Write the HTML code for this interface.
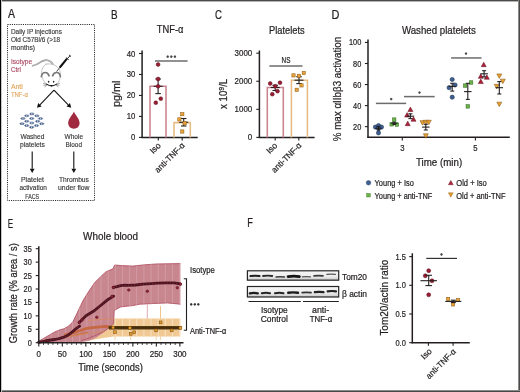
<!DOCTYPE html>
<html><head><meta charset="utf-8"><style>
html,body{margin:0;padding:0;background:#fff;}
svg{display:block;will-change:transform;}
text{font-family:"Liberation Sans", sans-serif;stroke-width:0.22px;paint-order:stroke;}
</style></head><body>
<svg width="520" height="392" viewBox="0 0 520 392">
<rect x="0" y="0" width="520" height="392" fill="#ffffff"/>
<text x="8.0" y="18.3" font-size="12" fill="#231f20" stroke="#231f20" textLength="7.0" lengthAdjust="spacingAndGlyphs" >A</text>
<rect x="7.5" y="24.5" width="87" height="176" fill="none" stroke="#2a2a2a" stroke-width="1" stroke-dasharray="1.1 1.1"/>
<text x="10.9" y="33.8" font-size="6.6" fill="#333" stroke="#333" textLength="51" lengthAdjust="spacingAndGlyphs" style="stroke-width:0.12px" >Daily IP injections</text>
<text x="10.9" y="42.1" font-size="6.6" fill="#333" stroke="#333" textLength="49.2" lengthAdjust="spacingAndGlyphs" style="stroke-width:0.12px" >Old C57Bl/6 (&gt;18</text>
<text x="10.9" y="50.3" font-size="6.6" fill="#333" stroke="#333" textLength="24.2" lengthAdjust="spacingAndGlyphs" style="stroke-width:0.12px" >months)</text>
<text x="10.9" y="64.0" font-size="6.6" fill="#a8435e" stroke="#a8435e" textLength="21.2" lengthAdjust="spacingAndGlyphs" style="stroke-width:0.12px" >Isotype</text>
<text x="10.9" y="72.2" font-size="6.6" fill="#a8435e" stroke="#a8435e" textLength="10" lengthAdjust="spacingAndGlyphs" style="stroke-width:0.12px" >Ctrl</text>
<text x="10.9" y="89.0" font-size="6.6" fill="#e0a45a" stroke="#e0a45a" textLength="11.8" lengthAdjust="spacingAndGlyphs" style="stroke-width:0.12px" >Anti</text>
<text x="10.9" y="96.5" font-size="6.6" fill="#e0a45a" stroke="#e0a45a" textLength="17.1" lengthAdjust="spacingAndGlyphs" style="stroke-width:0.12px" >TNF-α</text>
<g fill="none" stroke-linecap="round" stroke-linejoin="round">
<path d="M32.6,65.8 C35.5,65.2 38.5,63.5 41,61.8 C44,60 48,59.8 50.5,61.6 C51.6,62.4 52.4,63.4 52.9,64.3" stroke="#8a8a8a" stroke-width="1.6"/>
<path d="M32.6,65.8 C35.5,65.2 38.5,63.5 41,61.8 C44,60 48,59.8 50.5,61.6 C51.6,62.4 52.4,63.4 52.9,64.3" stroke="#e8e8e8" stroke-width="0.5"/>
<path d="M46.2,64.1 C49,63.6 53,63.8 56.5,66.2 C59.5,68.5 60.8,72 60.4,75.6 C60.2,78 59.6,80 58.4,82.2 C57.4,84 55,85.6 51.5,86.2 C48,85.6 45.6,84 44.6,82.2 C43.2,80 42.2,78 41.6,76 C40.8,72 42.2,66.2 46.2,64.1 Z" fill="#fff" stroke="#b0b0b0" stroke-width="0.7"/>
<path d="M41.4,76.6 C41.8,73.8 43.4,72.5 45.2,72.5 C47,72.5 48.4,73.6 49.0,75.8" stroke="#777" stroke-width="1.7"/>
<path d="M52.7,75.8 C53.3,73.6 54.8,72.5 56.6,72.5 C58.4,72.5 60.0,73.8 60.4,76.6" stroke="#777" stroke-width="1.7"/>
</g>
<ellipse cx="48.6" cy="81.8" rx="0.75" ry="1.0" fill="#222"/>
<ellipse cx="53.6" cy="81.8" rx="0.75" ry="1.0" fill="#222"/>
<path d="M46.4,84.0 Q51.5,87.6 56.8,84.0" fill="none" stroke="#111" stroke-width="0.9"/>
<ellipse cx="51.5" cy="85.7" rx="1.1" ry="0.8" fill="#111"/>
<line x1="47.2" y1="84.6" x2="43.0" y2="83.2" stroke="#333" stroke-width="0.45" />
<line x1="47.2" y1="84.6" x2="43.4" y2="85.4" stroke="#333" stroke-width="0.45" />
<line x1="47.2" y1="84.6" x2="44.6" y2="87.3" stroke="#333" stroke-width="0.45" />
<line x1="55.8" y1="84.6" x2="60.0" y2="83.2" stroke="#333" stroke-width="0.45" />
<line x1="55.8" y1="84.6" x2="59.6" y2="85.4" stroke="#333" stroke-width="0.45" />
<line x1="55.8" y1="84.6" x2="58.4" y2="87.3" stroke="#333" stroke-width="0.45" />
<line x1="56.6" y1="71.5" x2="60.2" y2="67.0" stroke="#222" stroke-width="0.8" />
<line x1="59.8" y1="67.5" x2="67.0" y2="58.6" stroke="#111" stroke-width="2.0" />
<line x1="66.2" y1="57.6" x2="68.6" y2="59.6" stroke="#111" stroke-width="0.9" />
<line x1="67.6" y1="58.4" x2="70.0" y2="55.8" stroke="#111" stroke-width="0.9" />
<line x1="69.0" y1="54.9" x2="71.0" y2="56.6" stroke="#111" stroke-width="0.9" />
<line x1="54" y1="90.2" x2="39.91790952654073" y2="104.77910543134607" stroke="#111" stroke-width="1.1" />
<polygon points="37.00,107.80 38.19,103.11 41.64,106.45" fill="#111"/>
<line x1="54" y1="90.2" x2="68.2644816192358" y2="104.7962137499157" stroke="#111" stroke-width="1.1" />
<polygon points="71.20,107.80 66.55,106.47 69.98,103.12" fill="#111"/>
<ellipse cx="31.8" cy="113.9" rx="2.2" ry="1.0" fill="#c4cede" stroke="#34507e" stroke-width="0.5"/>
<circle cx="30.650000000000002" cy="113.9" r="0.6" fill="#2a4676" stroke="none" stroke-width="0.5"/>
<circle cx="32.95" cy="113.9" r="0.6" fill="#2a4676" stroke="none" stroke-width="0.5"/>
<ellipse cx="26.7" cy="115.8" rx="2.2" ry="1.0" fill="#c4cede" stroke="#34507e" stroke-width="0.5"/>
<circle cx="25.55" cy="115.8" r="0.6" fill="#2a4676" stroke="none" stroke-width="0.5"/>
<circle cx="27.849999999999998" cy="115.8" r="0.6" fill="#2a4676" stroke="none" stroke-width="0.5"/>
<ellipse cx="36.8" cy="115.8" rx="2.2" ry="1.0" fill="#c4cede" stroke="#34507e" stroke-width="0.5"/>
<circle cx="35.65" cy="115.8" r="0.6" fill="#2a4676" stroke="none" stroke-width="0.5"/>
<circle cx="37.949999999999996" cy="115.8" r="0.6" fill="#2a4676" stroke="none" stroke-width="0.5"/>
<ellipse cx="22.9" cy="118.5" rx="2.2" ry="1.0" fill="#c4cede" stroke="#34507e" stroke-width="0.5"/>
<circle cx="21.75" cy="118.5" r="0.6" fill="#2a4676" stroke="none" stroke-width="0.5"/>
<circle cx="24.049999999999997" cy="118.5" r="0.6" fill="#2a4676" stroke="none" stroke-width="0.5"/>
<ellipse cx="31.7" cy="118.5" rx="2.2" ry="1.0" fill="#c4cede" stroke="#34507e" stroke-width="0.5"/>
<circle cx="30.55" cy="118.5" r="0.6" fill="#2a4676" stroke="none" stroke-width="0.5"/>
<circle cx="32.85" cy="118.5" r="0.6" fill="#2a4676" stroke="none" stroke-width="0.5"/>
<ellipse cx="40.5" cy="118.5" rx="2.2" ry="1.0" fill="#c4cede" stroke="#34507e" stroke-width="0.5"/>
<circle cx="39.35" cy="118.5" r="0.6" fill="#2a4676" stroke="none" stroke-width="0.5"/>
<circle cx="41.65" cy="118.5" r="0.6" fill="#2a4676" stroke="none" stroke-width="0.5"/>
<ellipse cx="26.7" cy="121.3" rx="2.2" ry="1.0" fill="#c4cede" stroke="#34507e" stroke-width="0.5"/>
<circle cx="25.55" cy="121.3" r="0.6" fill="#2a4676" stroke="none" stroke-width="0.5"/>
<circle cx="27.849999999999998" cy="121.3" r="0.6" fill="#2a4676" stroke="none" stroke-width="0.5"/>
<ellipse cx="37.6" cy="121.3" rx="2.2" ry="1.0" fill="#c4cede" stroke="#34507e" stroke-width="0.5"/>
<circle cx="36.45" cy="121.3" r="0.6" fill="#2a4676" stroke="none" stroke-width="0.5"/>
<circle cx="38.75" cy="121.3" r="0.6" fill="#2a4676" stroke="none" stroke-width="0.5"/>
<ellipse cx="31.8" cy="123.0" rx="2.2" ry="1.0" fill="#c4cede" stroke="#34507e" stroke-width="0.5"/>
<circle cx="30.650000000000002" cy="123.0" r="0.6" fill="#2a4676" stroke="none" stroke-width="0.5"/>
<circle cx="32.95" cy="123.0" r="0.6" fill="#2a4676" stroke="none" stroke-width="0.5"/>
<ellipse cx="22.0" cy="123.7" rx="2.2" ry="1.0" fill="#c4cede" stroke="#34507e" stroke-width="0.5"/>
<circle cx="20.85" cy="123.7" r="0.6" fill="#2a4676" stroke="none" stroke-width="0.5"/>
<circle cx="23.15" cy="123.7" r="0.6" fill="#2a4676" stroke="none" stroke-width="0.5"/>
<ellipse cx="41.7" cy="123.7" rx="2.2" ry="1.0" fill="#c4cede" stroke="#34507e" stroke-width="0.5"/>
<circle cx="40.550000000000004" cy="123.7" r="0.6" fill="#2a4676" stroke="none" stroke-width="0.5"/>
<circle cx="42.85" cy="123.7" r="0.6" fill="#2a4676" stroke="none" stroke-width="0.5"/>
<ellipse cx="26.7" cy="125.6" rx="2.2" ry="1.0" fill="#c4cede" stroke="#34507e" stroke-width="0.5"/>
<circle cx="25.55" cy="125.6" r="0.6" fill="#2a4676" stroke="none" stroke-width="0.5"/>
<circle cx="27.849999999999998" cy="125.6" r="0.6" fill="#2a4676" stroke="none" stroke-width="0.5"/>
<ellipse cx="36.5" cy="125.6" rx="2.2" ry="1.0" fill="#c4cede" stroke="#34507e" stroke-width="0.5"/>
<circle cx="35.35" cy="125.6" r="0.6" fill="#2a4676" stroke="none" stroke-width="0.5"/>
<circle cx="37.65" cy="125.6" r="0.6" fill="#2a4676" stroke="none" stroke-width="0.5"/>
<ellipse cx="31.6" cy="127.3" rx="2.2" ry="1.0" fill="#c4cede" stroke="#34507e" stroke-width="0.5"/>
<circle cx="30.450000000000003" cy="127.3" r="0.6" fill="#2a4676" stroke="none" stroke-width="0.5"/>
<circle cx="32.75" cy="127.3" r="0.6" fill="#2a4676" stroke="none" stroke-width="0.5"/>
<path d="M73.9,111.6 C74.8,114.5 79.6,118.8 79.6,123.1 C79.6,126.6 77.1,128.8 73.9,128.8 C70.7,128.8 68.2,126.6 68.2,123.1 C68.2,118.8 73,114.5 73.9,111.6 Z" fill="#a0283f"/>
<text x="32.4" y="139.2" font-size="6.6" fill="#333" stroke="#333" text-anchor="middle" textLength="24" lengthAdjust="spacingAndGlyphs" style="stroke-width:0.12px" >Washed</text>
<text x="32.4" y="147.3" font-size="6.6" fill="#333" stroke="#333" text-anchor="middle" textLength="24.8" lengthAdjust="spacingAndGlyphs" style="stroke-width:0.12px" >platelets</text>
<text x="73.8" y="139.2" font-size="6.6" fill="#333" stroke="#333" text-anchor="middle" textLength="18.5" lengthAdjust="spacingAndGlyphs" style="stroke-width:0.12px" >Whole</text>
<text x="73.8" y="147.3" font-size="6.6" fill="#333" stroke="#333" text-anchor="middle" textLength="16.5" lengthAdjust="spacingAndGlyphs" style="stroke-width:0.12px" >Blood</text>
<line x1="32.2" y1="151.5" x2="32.2" y2="168.8" stroke="#111" stroke-width="1.1" />
<polygon points="32.20,173.00 29.80,168.80 34.60,168.80" fill="#111"/>
<line x1="73.8" y1="151.5" x2="73.8" y2="168.8" stroke="#111" stroke-width="1.1" />
<polygon points="73.80,173.00 71.40,168.80 76.20,168.80" fill="#111"/>
<text x="32.5" y="182.3" font-size="6.6" fill="#333" stroke="#333" text-anchor="middle" textLength="23" lengthAdjust="spacingAndGlyphs" style="stroke-width:0.12px" >Platelet</text>
<text x="33.2" y="190.4" font-size="6.6" fill="#333" stroke="#333" text-anchor="middle" textLength="27.5" lengthAdjust="spacingAndGlyphs" style="stroke-width:0.12px" >activation</text>
<text x="32.2" y="198.5" font-size="6.6" fill="#333" stroke="#333" text-anchor="middle" textLength="14" lengthAdjust="spacingAndGlyphs" style="stroke-width:0.12px" >FACS</text>
<text x="73.9" y="182.3" font-size="6.6" fill="#333" stroke="#333" text-anchor="middle" textLength="30" lengthAdjust="spacingAndGlyphs" style="stroke-width:0.12px" >Thrombus</text>
<text x="73.8" y="190.4" font-size="6.6" fill="#333" stroke="#333" text-anchor="middle" textLength="31.5" lengthAdjust="spacingAndGlyphs" style="stroke-width:0.12px" >under flow</text>
<text x="111.0" y="18.5" font-size="12" fill="#231f20" stroke="#231f20" textLength="6.6" lengthAdjust="spacingAndGlyphs" >B</text>
<text x="156.8" y="32.7" font-size="10.5" fill="#231f20" stroke="#231f20" textLength="26.7" lengthAdjust="spacingAndGlyphs" >TNF-α</text>
<line x1="142.1" y1="50.4" x2="142.1" y2="138.0" stroke="#231f20" stroke-width="1.5" />
<line x1="139.0" y1="137.4" x2="142.1" y2="137.4" stroke="#231f20" stroke-width="1.1" />
<text x="135.4" y="140.4" font-size="8.7" fill="#231f20" stroke="#231f20" text-anchor="end" textLength="4.3" lengthAdjust="spacingAndGlyphs" >0</text>
<line x1="139.0" y1="116.42500000000001" x2="142.1" y2="116.42500000000001" stroke="#231f20" stroke-width="1.1" />
<text x="135.4" y="119.42500000000001" font-size="8.7" fill="#231f20" stroke="#231f20" text-anchor="end" textLength="8.6" lengthAdjust="spacingAndGlyphs" >10</text>
<line x1="139.0" y1="95.45" x2="142.1" y2="95.45" stroke="#231f20" stroke-width="1.1" />
<text x="135.4" y="98.45" font-size="8.7" fill="#231f20" stroke="#231f20" text-anchor="end" textLength="8.6" lengthAdjust="spacingAndGlyphs" >20</text>
<line x1="139.0" y1="74.475" x2="142.1" y2="74.475" stroke="#231f20" stroke-width="1.1" />
<text x="135.4" y="77.475" font-size="8.7" fill="#231f20" stroke="#231f20" text-anchor="end" textLength="8.6" lengthAdjust="spacingAndGlyphs" >30</text>
<line x1="139.0" y1="53.5" x2="142.1" y2="53.5" stroke="#231f20" stroke-width="1.1" />
<text x="135.4" y="56.5" font-size="8.7" fill="#231f20" stroke="#231f20" text-anchor="end" textLength="8.6" lengthAdjust="spacingAndGlyphs" >40</text>
<line x1="141.4" y1="137.4" x2="197.7" y2="137.4" stroke="#231f20" stroke-width="1.5" />
<line x1="158.3" y1="137.4" x2="158.3" y2="140.4" stroke="#231f20" stroke-width="1.1" />
<line x1="182.2" y1="137.4" x2="182.2" y2="140.4" stroke="#231f20" stroke-width="1.1" />
<path d="M150.0,137.4 V86.3 H166.0 V137.4" fill="none" stroke="#c9848f" stroke-width="1.55"/>
<path d="M174.0,137.4 V122.6 H190.3 V137.4" fill="none" stroke="#e8bb82" stroke-width="1.55"/>
<line x1="153.6" y1="86.3" x2="162.6" y2="86.3" stroke="#231f20" stroke-width="1.1" />
<line x1="158.1" y1="79.0" x2="158.1" y2="93.6" stroke="#231f20" stroke-width="1.1" />
<line x1="155.35" y1="79.0" x2="160.85" y2="79.0" stroke="#231f20" stroke-width="1.1" />
<line x1="155.35" y1="93.6" x2="160.85" y2="93.6" stroke="#231f20" stroke-width="1.1" />
<line x1="179.2" y1="122.3" x2="188.2" y2="122.3" stroke="#231f20" stroke-width="1.1" />
<line x1="183.7" y1="118.5" x2="183.7" y2="126.0" stroke="#231f20" stroke-width="1.1" />
<line x1="180.95" y1="118.5" x2="186.45" y2="118.5" stroke="#231f20" stroke-width="1.1" />
<line x1="180.95" y1="126.0" x2="186.45" y2="126.0" stroke="#231f20" stroke-width="1.1" />
<circle cx="158.1" cy="64.5" r="1.9" fill="#9b1d33" stroke="#5a0f1c" stroke-width="0.5"/>
<circle cx="158.1" cy="79.0" r="1.9" fill="#9b1d33" stroke="#5a0f1c" stroke-width="0.5"/>
<circle cx="158.1" cy="86.3" r="1.9" fill="#9b1d33" stroke="#5a0f1c" stroke-width="0.5"/>
<circle cx="160.8" cy="98.7" r="1.9" fill="#9b1d33" stroke="#5a0f1c" stroke-width="0.5"/>
<circle cx="155.8" cy="102.7" r="1.9" fill="#9b1d33" stroke="#5a0f1c" stroke-width="0.5"/>
<rect x="180.65" y="112.55" width="3.3" height="3.3" fill="#e8a03a" stroke="#8a5a10" stroke-width="0.5"/>
<rect x="177.75" y="117.75" width="3.3" height="3.3" fill="#e8a03a" stroke="#8a5a10" stroke-width="0.5"/>
<rect x="182.95" y="121.65" width="3.3" height="3.3" fill="#e8a03a" stroke="#8a5a10" stroke-width="0.5"/>
<rect x="180.65" y="129.85" width="3.3" height="3.3" fill="#e8a03a" stroke="#8a5a10" stroke-width="0.5"/>
<line x1="155.0" y1="61.0" x2="187.6" y2="61.0" stroke="#6c6c6c" stroke-width="1.5" />
<circle cx="167.7" cy="56.7" r="1.15" fill="#474747"/>
<path d="M166.435,56.7 L168.96499999999997,56.7 M167.7,55.435 L167.7,57.965" stroke="#474747" stroke-width="0.5"/>
<circle cx="171.3" cy="56.7" r="1.15" fill="#474747"/>
<path d="M170.03500000000003,56.7 L172.565,56.7 M171.3,55.435 L171.3,57.965" stroke="#474747" stroke-width="0.5"/>
<circle cx="174.9" cy="56.7" r="1.15" fill="#474747"/>
<path d="M173.63500000000002,56.7 L176.165,56.7 M174.9,55.435 L174.9,57.965" stroke="#474747" stroke-width="0.5"/>
<text x="120.4" y="93.9" font-size="10" fill="#231f20" stroke="#231f20" text-anchor="middle" textLength="26.4" lengthAdjust="spacingAndGlyphs" transform="rotate(-90 120.4 93.9)" >pg/ml</text>
<text x="161.3" y="146.0" font-size="8.5" fill="#231f20" stroke="#231f20" text-anchor="end" textLength="11.5" lengthAdjust="spacingAndGlyphs" transform="rotate(-45 161.3 146.0)" >Iso</text>
<text x="185.3" y="146.0" font-size="8.5" fill="#231f20" stroke="#231f20" text-anchor="end" textLength="38.5" lengthAdjust="spacingAndGlyphs" transform="rotate(-45 185.3 146.0)" >anti-TNF-α</text>
<text x="214.9" y="18.5" font-size="12" fill="#231f20" stroke="#231f20" textLength="6.9" lengthAdjust="spacingAndGlyphs" >C</text>
<text x="269" y="33.5" font-size="10.5" fill="#231f20" stroke="#231f20" textLength="35.7" lengthAdjust="spacingAndGlyphs" >Platelets</text>
<line x1="259.4" y1="50.5" x2="259.4" y2="138.0" stroke="#231f20" stroke-width="1.5" />
<line x1="256.3" y1="137.4" x2="259.4" y2="137.4" stroke="#231f20" stroke-width="1.1" />
<text x="252.2" y="140.4" font-size="8.7" fill="#231f20" stroke="#231f20" text-anchor="end" textLength="4.4" lengthAdjust="spacingAndGlyphs" >0</text>
<line x1="256.3" y1="109.33000000000001" x2="259.4" y2="109.33000000000001" stroke="#231f20" stroke-width="1.1" />
<text x="252.2" y="112.33000000000001" font-size="8.7" fill="#231f20" stroke="#231f20" text-anchor="end" textLength="17.6" lengthAdjust="spacingAndGlyphs" >1000</text>
<line x1="256.3" y1="81.26" x2="259.4" y2="81.26" stroke="#231f20" stroke-width="1.1" />
<text x="252.2" y="84.26" font-size="8.7" fill="#231f20" stroke="#231f20" text-anchor="end" textLength="17.6" lengthAdjust="spacingAndGlyphs" >2000</text>
<line x1="256.3" y1="53.19" x2="259.4" y2="53.19" stroke="#231f20" stroke-width="1.1" />
<text x="252.2" y="56.19" font-size="8.7" fill="#231f20" stroke="#231f20" text-anchor="end" textLength="17.6" lengthAdjust="spacingAndGlyphs" >3000</text>
<line x1="258.7" y1="137.4" x2="314.6" y2="137.4" stroke="#231f20" stroke-width="1.5" />
<line x1="275.2" y1="137.4" x2="275.2" y2="140.4" stroke="#231f20" stroke-width="1.1" />
<line x1="298.8" y1="137.4" x2="298.8" y2="140.4" stroke="#231f20" stroke-width="1.1" />
<path d="M267.3,137.4 V87.5 H283.3 V137.4" fill="none" stroke="#c9848f" stroke-width="1.55"/>
<path d="M291.4,137.4 V80.2 H307.4 V137.4" fill="none" stroke="#e8bb82" stroke-width="1.55"/>
<line x1="270.7" y1="87.5" x2="279.7" y2="87.5" stroke="#231f20" stroke-width="1.1" />
<line x1="275.2" y1="85.3" x2="275.2" y2="90.5" stroke="#231f20" stroke-width="1.1" />
<line x1="272.45" y1="85.3" x2="277.95" y2="85.3" stroke="#231f20" stroke-width="1.1" />
<line x1="272.45" y1="90.5" x2="277.95" y2="90.5" stroke="#231f20" stroke-width="1.1" />
<line x1="294.5" y1="80.2" x2="303.5" y2="80.2" stroke="#231f20" stroke-width="1.1" />
<line x1="299.0" y1="76.7" x2="299.0" y2="83.6" stroke="#231f20" stroke-width="1.1" />
<line x1="296.25" y1="76.7" x2="301.75" y2="76.7" stroke="#231f20" stroke-width="1.1" />
<line x1="296.25" y1="83.6" x2="301.75" y2="83.6" stroke="#231f20" stroke-width="1.1" />
<circle cx="270.2" cy="83.5" r="1.9" fill="#9b1d33" stroke="#5a0f1c" stroke-width="0.5"/>
<circle cx="280.0" cy="82.7" r="1.9" fill="#9b1d33" stroke="#5a0f1c" stroke-width="0.5"/>
<circle cx="275.2" cy="86.2" r="1.9" fill="#9b1d33" stroke="#5a0f1c" stroke-width="0.5"/>
<circle cx="272.3" cy="94.2" r="1.9" fill="#9b1d33" stroke="#5a0f1c" stroke-width="0.5"/>
<circle cx="277.5" cy="91.2" r="1.9" fill="#9b1d33" stroke="#5a0f1c" stroke-width="0.5"/>
<rect x="291.85" y="73.75" width="3.3" height="3.3" fill="#e8a03a" stroke="#8a5a10" stroke-width="0.5"/>
<rect x="297.35" y="74.15" width="3.3" height="3.3" fill="#e8a03a" stroke="#8a5a10" stroke-width="0.5"/>
<rect x="302.15" y="71.35" width="3.3" height="3.3" fill="#e8a03a" stroke="#8a5a10" stroke-width="0.5"/>
<rect x="299.85" y="83.75" width="3.3" height="3.3" fill="#e8a03a" stroke="#8a5a10" stroke-width="0.5"/>
<rect x="295.05" y="88.15" width="3.3" height="3.3" fill="#e8a03a" stroke="#8a5a10" stroke-width="0.5"/>
<line x1="269.4" y1="66.0" x2="302.5" y2="66.0" stroke="#6c6c6c" stroke-width="1.5" />
<text x="286.0" y="62.7" font-size="8.6" fill="#231f20" stroke="#231f20" text-anchor="middle" textLength="8.9" lengthAdjust="spacingAndGlyphs" >NS</text>
<text x="227.4" y="109" font-size="10" fill="#231f20" stroke="#231f20" textLength="30.2" lengthAdjust="spacingAndGlyphs" transform="rotate(-90 227.4 109)">x 10<tspan font-size="7.2" dy="-3.8">9</tspan><tspan dy="3.8">/L</tspan></text>
<text x="277.8" y="146.0" font-size="8.5" fill="#231f20" stroke="#231f20" text-anchor="end" textLength="11.5" lengthAdjust="spacingAndGlyphs" transform="rotate(-45 277.8 146.0)" >Iso</text>
<text x="302.1" y="146.0" font-size="8.5" fill="#231f20" stroke="#231f20" text-anchor="end" textLength="38.5" lengthAdjust="spacingAndGlyphs" transform="rotate(-45 302.1 146.0)" >anti-TNF-α</text>
<text x="331.6" y="18.5" font-size="12" fill="#231f20" stroke="#231f20" textLength="7.9" lengthAdjust="spacingAndGlyphs" >D</text>
<text x="401.9" y="33.6" font-size="10.5" fill="#231f20" stroke="#231f20" textLength="74" lengthAdjust="spacingAndGlyphs" >Washed platelets</text>
<line x1="368.0" y1="39.5" x2="368.0" y2="137.9" stroke="#231f20" stroke-width="1.5" />
<line x1="364.9" y1="126.64999999999999" x2="368.0" y2="126.64999999999999" stroke="#231f20" stroke-width="1.1" />
<text x="361.3" y="129.64999999999998" font-size="8.7" fill="#231f20" stroke="#231f20" text-anchor="end" textLength="8.2" lengthAdjust="spacingAndGlyphs" >20</text>
<line x1="364.9" y1="105.6" x2="368.0" y2="105.6" stroke="#231f20" stroke-width="1.1" />
<text x="361.3" y="108.6" font-size="8.7" fill="#231f20" stroke="#231f20" text-anchor="end" textLength="8.2" lengthAdjust="spacingAndGlyphs" >40</text>
<line x1="364.9" y1="84.54999999999998" x2="368.0" y2="84.54999999999998" stroke="#231f20" stroke-width="1.1" />
<text x="361.3" y="87.54999999999998" font-size="8.7" fill="#231f20" stroke="#231f20" text-anchor="end" textLength="8.2" lengthAdjust="spacingAndGlyphs" >60</text>
<line x1="364.9" y1="63.499999999999986" x2="368.0" y2="63.499999999999986" stroke="#231f20" stroke-width="1.1" />
<text x="361.3" y="66.49999999999999" font-size="8.7" fill="#231f20" stroke="#231f20" text-anchor="end" textLength="8.2" lengthAdjust="spacingAndGlyphs" >80</text>
<line x1="364.9" y1="42.44999999999999" x2="368.0" y2="42.44999999999999" stroke="#231f20" stroke-width="1.1" />
<text x="361.3" y="45.44999999999999" font-size="8.7" fill="#231f20" stroke="#231f20" text-anchor="end" textLength="12.3" lengthAdjust="spacingAndGlyphs" >100</text>
<line x1="367.3" y1="137.3" x2="509.8" y2="137.3" stroke="#231f20" stroke-width="1.5" />
<line x1="402.3" y1="137.3" x2="402.3" y2="140.6" stroke="#231f20" stroke-width="1.1" />
<line x1="475.4" y1="137.3" x2="475.4" y2="140.6" stroke="#231f20" stroke-width="1.1" />
<text x="402.3" y="151.4" font-size="8.7" fill="#231f20" stroke="#231f20" text-anchor="middle" textLength="4.3" lengthAdjust="spacingAndGlyphs" >3</text>
<text x="475.4" y="151.4" font-size="8.7" fill="#231f20" stroke="#231f20" text-anchor="middle" textLength="4.3" lengthAdjust="spacingAndGlyphs" >5</text>
<text x="416.0" y="165.5" font-size="10" fill="#231f20" stroke="#231f20" textLength="46.2" lengthAdjust="spacingAndGlyphs" >Time (min)</text>
<text x="340.6" y="89.0" font-size="10" fill="#231f20" stroke="#231f20" text-anchor="middle" textLength="104.5" lengthAdjust="spacingAndGlyphs" transform="rotate(-90 340.6 89.0)" >% max αIIbβ3 activation</text>
<circle cx="375.4" cy="127.1" r="2.1" fill="#3e5f8f" stroke="#1e3458" stroke-width="0.6"/>
<circle cx="378.5" cy="125.6" r="2.1" fill="#3e5f8f" stroke="#1e3458" stroke-width="0.6"/>
<circle cx="381.5" cy="127.1" r="2.1" fill="#3e5f8f" stroke="#1e3458" stroke-width="0.6"/>
<circle cx="378.5" cy="132.9" r="2.1" fill="#3e5f8f" stroke="#1e3458" stroke-width="0.6"/>
<circle cx="378.5" cy="128.5" r="2.1" fill="#3e5f8f" stroke="#1e3458" stroke-width="0.6"/>
<line x1="375.25" y1="128.3" x2="381.75" y2="128.3" stroke="#231f20" stroke-width="1.1" />
<line x1="378.5" y1="126.5" x2="378.5" y2="130.0" stroke="#231f20" stroke-width="1.1" />
<line x1="376.75" y1="126.5" x2="380.25" y2="126.5" stroke="#231f20" stroke-width="1.1" />
<line x1="376.75" y1="130.0" x2="380.25" y2="130.0" stroke="#231f20" stroke-width="1.1" />
<rect x="392.45" y="117.85" width="3.5" height="3.5" fill="#6cb04a" stroke="#2f6a1c" stroke-width="0.5"/>
<rect x="389.95" y="122.55" width="3.5" height="3.5" fill="#6cb04a" stroke="#2f6a1c" stroke-width="0.5"/>
<rect x="395.15" y="122.75" width="3.5" height="3.5" fill="#6cb04a" stroke="#2f6a1c" stroke-width="0.5"/>
<line x1="390.95" y1="123.3" x2="397.45" y2="123.3" stroke="#231f20" stroke-width="1.1" />
<line x1="394.2" y1="122.2" x2="394.2" y2="124.5" stroke="#231f20" stroke-width="1.1" />
<line x1="392.45" y1="122.2" x2="395.95" y2="122.2" stroke="#231f20" stroke-width="1.1" />
<line x1="392.45" y1="124.5" x2="395.95" y2="124.5" stroke="#231f20" stroke-width="1.1" />
<polygon points="410.4,107.05 407.9,111.55 412.9,111.55" fill="#b0213a" stroke="#5a0f1c" stroke-width="0.5"/>
<polygon points="407.1,112.55 404.6,117.05 409.6,117.05" fill="#b0213a" stroke="#5a0f1c" stroke-width="0.5"/>
<polygon points="413.5,116.75 411.0,121.25 416.0,121.25" fill="#b0213a" stroke="#5a0f1c" stroke-width="0.5"/>
<polygon points="407.7,121.15 405.2,125.65 410.2,125.65" fill="#b0213a" stroke="#5a0f1c" stroke-width="0.5"/>
<line x1="406.65" y1="116.2" x2="414.15" y2="116.2" stroke="#231f20" stroke-width="1.1" />
<line x1="410.4" y1="113.8" x2="410.4" y2="118.6" stroke="#231f20" stroke-width="1.1" />
<line x1="408.4" y1="113.8" x2="412.4" y2="113.8" stroke="#231f20" stroke-width="1.1" />
<line x1="408.4" y1="118.6" x2="412.4" y2="118.6" stroke="#231f20" stroke-width="1.1" />
<polygon points="422.5,125.15 420.0,120.65 425.0,120.65" fill="#e9a030" stroke="#7a4c0c" stroke-width="0.5"/>
<polygon points="425.8,124.75 423.3,120.25 428.3,120.25" fill="#e9a030" stroke="#7a4c0c" stroke-width="0.5"/>
<polygon points="428.8,124.75 426.3,120.25 431.3,120.25" fill="#e9a030" stroke="#7a4c0c" stroke-width="0.5"/>
<polygon points="425.8,138.25 423.3,133.75 428.3,133.75" fill="#e9a030" stroke="#7a4c0c" stroke-width="0.5"/>
<line x1="422.05" y1="127.1" x2="429.55" y2="127.1" stroke="#231f20" stroke-width="1.1" />
<line x1="425.8" y1="124.3" x2="425.8" y2="130.0" stroke="#231f20" stroke-width="1.1" />
<line x1="423.8" y1="124.3" x2="427.8" y2="124.3" stroke="#231f20" stroke-width="1.1" />
<line x1="423.8" y1="130.0" x2="427.8" y2="130.0" stroke="#231f20" stroke-width="1.1" />
<circle cx="452.2" cy="79.5" r="2.1" fill="#3e5f8f" stroke="#1e3458" stroke-width="0.6"/>
<circle cx="455.1" cy="85.0" r="2.1" fill="#3e5f8f" stroke="#1e3458" stroke-width="0.6"/>
<circle cx="449.1" cy="87.7" r="2.1" fill="#3e5f8f" stroke="#1e3458" stroke-width="0.6"/>
<circle cx="452.2" cy="97.2" r="2.1" fill="#3e5f8f" stroke="#1e3458" stroke-width="0.6"/>
<line x1="448.7" y1="86.4" x2="455.7" y2="86.4" stroke="#231f20" stroke-width="1.1" />
<line x1="452.2" y1="83.3" x2="452.2" y2="91.1" stroke="#231f20" stroke-width="1.1" />
<line x1="450.2" y1="83.3" x2="454.2" y2="83.3" stroke="#231f20" stroke-width="1.1" />
<line x1="450.2" y1="91.1" x2="454.2" y2="91.1" stroke="#231f20" stroke-width="1.1" />
<rect x="469.35" y="80.75" width="3.5" height="3.5" fill="#6cb04a" stroke="#2f6a1c" stroke-width="0.5"/>
<rect x="463.45" y="83.85" width="3.5" height="3.5" fill="#6cb04a" stroke="#2f6a1c" stroke-width="0.5"/>
<rect x="466.05" y="104.65" width="3.5" height="3.5" fill="#6cb04a" stroke="#2f6a1c" stroke-width="0.5"/>
<line x1="464.05" y1="91.6" x2="471.55" y2="91.6" stroke="#231f20" stroke-width="1.1" />
<line x1="467.8" y1="83.3" x2="467.8" y2="99.4" stroke="#231f20" stroke-width="1.1" />
<line x1="465.8" y1="83.3" x2="469.8" y2="83.3" stroke="#231f20" stroke-width="1.1" />
<line x1="465.8" y1="99.4" x2="469.8" y2="99.4" stroke="#231f20" stroke-width="1.1" />
<polygon points="483.7,62.150000000000006 481.2,66.65 486.2,66.65" fill="#b0213a" stroke="#5a0f1c" stroke-width="0.5"/>
<polygon points="480.8,73.85 478.3,78.35 483.3,78.35" fill="#b0213a" stroke="#5a0f1c" stroke-width="0.5"/>
<polygon points="486.8,74.75 484.3,79.25 489.3,79.25" fill="#b0213a" stroke="#5a0f1c" stroke-width="0.5"/>
<polygon points="480.8,79.05 478.3,83.55 483.3,83.55" fill="#b0213a" stroke="#5a0f1c" stroke-width="0.5"/>
<line x1="480.35" y1="73.8" x2="487.85" y2="73.8" stroke="#231f20" stroke-width="1.1" />
<line x1="484.1" y1="70.7" x2="484.1" y2="76.9" stroke="#231f20" stroke-width="1.1" />
<line x1="482.1" y1="70.7" x2="486.1" y2="70.7" stroke="#231f20" stroke-width="1.1" />
<line x1="482.1" y1="76.9" x2="486.1" y2="76.9" stroke="#231f20" stroke-width="1.1" />
<polygon points="499.3,78.45 496.8,73.95 501.8,73.95" fill="#e9a030" stroke="#7a4c0c" stroke-width="0.5"/>
<polygon points="502.8,83.65 500.3,79.15 505.3,79.15" fill="#e9a030" stroke="#7a4c0c" stroke-width="0.5"/>
<polygon points="496.7,88.85 494.2,84.35 499.2,84.35" fill="#e9a030" stroke="#7a4c0c" stroke-width="0.5"/>
<polygon points="499.3,106.65 496.8,102.15 501.8,102.15" fill="#e9a030" stroke="#7a4c0c" stroke-width="0.5"/>
<line x1="495.55" y1="87.7" x2="503.05" y2="87.7" stroke="#231f20" stroke-width="1.1" />
<line x1="499.3" y1="81.6" x2="499.3" y2="94.0" stroke="#231f20" stroke-width="1.1" />
<line x1="497.3" y1="81.6" x2="501.3" y2="81.6" stroke="#231f20" stroke-width="1.1" />
<line x1="497.3" y1="94.0" x2="501.3" y2="94.0" stroke="#231f20" stroke-width="1.1" />
<line x1="375.9" y1="103.4" x2="406.2" y2="103.4" stroke="#6c6c6c" stroke-width="1.5" />
<circle cx="391.2" cy="99.1" r="1.15" fill="#474747"/>
<path d="M389.935,99.1 L392.465,99.1 M391.2,97.835 L391.2,100.365" stroke="#474747" stroke-width="0.5"/>
<line x1="404.0" y1="96.6" x2="434.7" y2="96.6" stroke="#6c6c6c" stroke-width="1.5" />
<circle cx="419.5" cy="92.6" r="1.15" fill="#474747"/>
<path d="M418.235,92.6 L420.765,92.6 M419.5,91.335 L419.5,93.865" stroke="#474747" stroke-width="0.5"/>
<line x1="451.1" y1="57.95" x2="481.5" y2="57.95" stroke="#6c6c6c" stroke-width="1.5" />
<circle cx="466.0" cy="53.6" r="1.15" fill="#474747"/>
<path d="M464.735,53.6 L467.265,53.6 M466.0,52.335 L466.0,54.865" stroke="#474747" stroke-width="0.5"/>
<circle cx="368.5" cy="182.8" r="2.3" fill="#3e5f8f" stroke="#223a60" stroke-width="0.4"/>
<text x="374.6" y="185.9" font-size="8.5" fill="#231f20" stroke="#231f20" textLength="39.2" lengthAdjust="spacingAndGlyphs" >Young + Iso</text>
<rect x="366.70" y="193.40" width="3.6" height="3.6" fill="#6cb04a" stroke="#3d7a25" stroke-width="0.4"/>
<text x="374.6" y="198.5" font-size="8.5" fill="#231f20" stroke="#231f20" textLength="57.7" lengthAdjust="spacingAndGlyphs" >Young + anti-TNF</text>
<polygon points="450.8,180.44 448.40000000000003,184.76 453.2,184.76" fill="#b0213a" stroke="#5a0f1c" stroke-width="0.4"/>
<text x="456.3" y="185.9" font-size="8.5" fill="#231f20" stroke="#231f20" textLength="30.5" lengthAdjust="spacingAndGlyphs" >Old + Iso</text>
<polygon points="450.8,197.16 448.40000000000003,192.84 453.2,192.84" fill="#e9a030" stroke="#7a4c0c" stroke-width="0.4"/>
<text x="456.3" y="198.5" font-size="8.5" fill="#231f20" stroke="#231f20" textLength="49.2" lengthAdjust="spacingAndGlyphs" >Old + anti-TNF</text>
<text x="247.3" y="227.4" font-size="12" fill="#231f20" stroke="#231f20" textLength="5.6" lengthAdjust="spacingAndGlyphs" >F</text>
<defs><linearGradient id="blg" x1="0" y1="0" x2="0" y2="1"><stop offset="0" stop-color="#f6f6f6"/><stop offset="0.6" stop-color="#ececec"/><stop offset="0.85" stop-color="#d6d6d6"/><stop offset="1" stop-color="#b8b8b8"/></linearGradient></defs>
<rect x="247.4" y="270.8" width="91.3" height="9.399999999999977" fill="url(#blg)" stroke="#262626" stroke-width="1.2" />
<path d="M250.5,276.0 Q255.0,275.3 259.5,276.0" stroke="#1e1e1e" stroke-width="2.0" fill="none" stroke-linecap="round"/>
<path d="M263.0,276.0 Q267.65,275.37 272.3,276.0" stroke="#2a2a2a" stroke-width="1.8" fill="none" stroke-linecap="round"/>
<path d="M276.0,277.0 Q280.25,276.545 284.5,277.0" stroke="#3a3a3a" stroke-width="1.3" fill="none" stroke-linecap="round"/>
<path d="M288.0,276.6 Q293.75,275.69 299.5,276.6" stroke="#141414" stroke-width="2.6" fill="none" stroke-linecap="round"/>
<path d="M302.3,276.8 Q306.4,276.38 310.5,276.8" stroke="#555" stroke-width="1.2" fill="none" stroke-linecap="round"/>
<path d="M314.0,275.9 Q318.5,275.34 323.0,275.9" stroke="#3a3a3a" stroke-width="1.6" fill="none" stroke-linecap="round"/>
<path d="M326.8,274.3 Q331.1,273.845 335.4,274.3" stroke="#555" stroke-width="1.3" fill="none" stroke-linecap="round"/>
<rect x="247.4" y="286.5" width="91.3" height="10.5" fill="url(#blg)" stroke="#262626" stroke-width="1.2" />
<path d="M249.8,293.3 Q253.8,292.53000000000003 257.8,293.3" stroke="#1e1e1e" stroke-width="2.2" fill="none" stroke-linecap="round"/>
<path d="M261.8,293.2 Q265.9,292.5 270.0,293.2" stroke="#252525" stroke-width="2.0" fill="none" stroke-linecap="round"/>
<path d="M275.0,293.2 Q279.25,292.5 283.5,293.2" stroke="#252525" stroke-width="2.0" fill="none" stroke-linecap="round"/>
<path d="M288.2,292.8 Q293.1,291.96000000000004 298.0,292.8" stroke="#1a1a1a" stroke-width="2.4" fill="none" stroke-linecap="round"/>
<path d="M302.2,292.6 Q306.6,291.97 311.0,292.6" stroke="#333" stroke-width="1.8" fill="none" stroke-linecap="round"/>
<path d="M314.8,292.2 Q319.15,291.43 323.5,292.2" stroke="#222" stroke-width="2.2" fill="none" stroke-linecap="round"/>
<path d="M327.6,291.4 Q331.8,290.63 336.0,291.4" stroke="#222" stroke-width="2.2" fill="none" stroke-linecap="round"/>
<text x="342.0" y="279.8" font-size="8.5" fill="#231f20" stroke="#231f20" textLength="25" lengthAdjust="spacingAndGlyphs" >Tom20</text>
<text x="342.0" y="297.3" font-size="8.5" fill="#231f20" stroke="#231f20" textLength="25" lengthAdjust="spacingAndGlyphs" >β actin</text>
<line x1="248.5" y1="301.5" x2="300.8" y2="301.5" stroke="#222" stroke-width="1.0" />
<line x1="303.0" y1="301.5" x2="338.8" y2="301.5" stroke="#222" stroke-width="1.0" />
<text x="274.3" y="312.5" font-size="8.6" fill="#231f20" stroke="#231f20" text-anchor="middle" textLength="26.8" lengthAdjust="spacingAndGlyphs" >Isotype</text>
<text x="274.3" y="322.0" font-size="8.6" fill="#231f20" stroke="#231f20" text-anchor="middle" textLength="27.2" lengthAdjust="spacingAndGlyphs" >Control</text>
<text x="320.6" y="312.5" font-size="8.6" fill="#231f20" stroke="#231f20" text-anchor="middle" textLength="17.2" lengthAdjust="spacingAndGlyphs" >anti-</text>
<text x="321.0" y="322.0" font-size="8.6" fill="#231f20" stroke="#231f20" text-anchor="middle" textLength="22.5" lengthAdjust="spacingAndGlyphs" >TNF-α</text>
<line x1="412.3" y1="253.3" x2="412.3" y2="343.3" stroke="#231f20" stroke-width="1.5" />
<line x1="409.2" y1="342.7" x2="412.3" y2="342.7" stroke="#231f20" stroke-width="1.1" />
<text x="405.8" y="345.7" font-size="8.7" fill="#231f20" stroke="#231f20" text-anchor="end" textLength="10.4" lengthAdjust="spacingAndGlyphs" >0.0</text>
<line x1="409.2" y1="314.0" x2="412.3" y2="314.0" stroke="#231f20" stroke-width="1.1" />
<text x="405.8" y="317.0" font-size="8.7" fill="#231f20" stroke="#231f20" text-anchor="end" textLength="10.4" lengthAdjust="spacingAndGlyphs" >0.5</text>
<line x1="409.2" y1="285.3" x2="412.3" y2="285.3" stroke="#231f20" stroke-width="1.1" />
<text x="405.8" y="288.3" font-size="8.7" fill="#231f20" stroke="#231f20" text-anchor="end" textLength="10.4" lengthAdjust="spacingAndGlyphs" >1.0</text>
<line x1="409.2" y1="256.6" x2="412.3" y2="256.6" stroke="#231f20" stroke-width="1.1" />
<text x="405.8" y="259.6" font-size="8.7" fill="#231f20" stroke="#231f20" text-anchor="end" textLength="10.4" lengthAdjust="spacingAndGlyphs" >1.5</text>
<line x1="411.6" y1="342.7" x2="469.8" y2="342.7" stroke="#231f20" stroke-width="1.5" />
<line x1="428.4" y1="342.7" x2="428.4" y2="345.8" stroke="#231f20" stroke-width="1.1" />
<line x1="453.1" y1="342.7" x2="453.1" y2="345.8" stroke="#231f20" stroke-width="1.1" />
<line x1="426.3" y1="258.4" x2="457.0" y2="258.4" stroke="#333333" stroke-width="1.2" />
<circle cx="441.5" cy="254.5" r="1.15" fill="#474747"/>
<path d="M440.235,254.5 L442.765,254.5 M441.5,253.235 L441.5,255.765" stroke="#474747" stroke-width="0.5"/>
<circle cx="428.7" cy="270.7" r="2.0" fill="#9b1d33" stroke="#5a0f1c" stroke-width="0.5"/>
<circle cx="425.3" cy="275.8" r="2.0" fill="#9b1d33" stroke="#5a0f1c" stroke-width="0.5"/>
<circle cx="432.0" cy="280.8" r="2.0" fill="#9b1d33" stroke="#5a0f1c" stroke-width="0.5"/>
<circle cx="428.7" cy="294.8" r="2.0" fill="#9b1d33" stroke="#5a0f1c" stroke-width="0.5"/>
<line x1="420.45" y1="280.7" x2="436.95" y2="280.7" stroke="#231f20" stroke-width="1.1" />
<line x1="428.7" y1="275.3" x2="428.7" y2="285.6" stroke="#231f20" stroke-width="1.1" />
<line x1="425.45" y1="275.3" x2="431.95" y2="275.3" stroke="#231f20" stroke-width="1.1" />
<line x1="425.45" y1="285.6" x2="431.95" y2="285.6" stroke="#231f20" stroke-width="1.1" />
<rect x="446.45" y="297.25" width="3.3" height="3.3" fill="#e8a03a" stroke="#8a5a10" stroke-width="0.5"/>
<rect x="456.45" y="298.35" width="3.3" height="3.3" fill="#e8a03a" stroke="#8a5a10" stroke-width="0.5"/>
<rect x="451.45" y="302.75" width="3.3" height="3.3" fill="#e8a03a" stroke="#8a5a10" stroke-width="0.5"/>
<line x1="445.3" y1="301.4" x2="461.3" y2="301.4" stroke="#231f20" stroke-width="1.1" />
<line x1="453.3" y1="300.2" x2="453.3" y2="302.6" stroke="#231f20" stroke-width="1.1" />
<line x1="450.8" y1="300.2" x2="455.8" y2="300.2" stroke="#231f20" stroke-width="1.1" />
<line x1="450.8" y1="302.6" x2="455.8" y2="302.6" stroke="#231f20" stroke-width="1.1" />
<text x="388.0" y="297.7" font-size="10" fill="#231f20" stroke="#231f20" text-anchor="middle" textLength="75.8" lengthAdjust="spacingAndGlyphs" transform="rotate(-90 388.0 297.7)" >Tom20/actin ratio</text>
<text x="432.5" y="351.8" font-size="8.5" fill="#231f20" stroke="#231f20" text-anchor="end" textLength="11.5" lengthAdjust="spacingAndGlyphs" transform="rotate(-45 432.5 351.8)" >Iso</text>
<text x="456.5" y="352.2" font-size="8.5" fill="#231f20" stroke="#231f20" text-anchor="end" textLength="38.5" lengthAdjust="spacingAndGlyphs" transform="rotate(-45 456.5 352.2)" >anti-TNF-α</text>
<text x="7.8" y="227.7" font-size="12" fill="#231f20" stroke="#231f20" textLength="5.4" lengthAdjust="spacingAndGlyphs" >E</text>
<text x="83.1" y="240.1" font-size="10.3" fill="#231f20" stroke="#231f20" textLength="55" lengthAdjust="spacingAndGlyphs" >Whole blood</text>
<polygon points="38.5,342.0 50,340.5 60,338.5 70,335.5 80,331.5 90,327.5 100,323.5 108,320.2 113.5,318.6 180.4,318.6 180.4,336.6 113.5,336.6 100,338.5 90,340.5 80,341.8 60,342.5 38.5,342.5" fill="#f0c994"/>
<polygon points="38.3,341.5 55,331.8 60,329.8 63.9,328.8 68.4,326.3 72.9,321.8 76.1,315.2 80.6,305.7 83.5,299.8 87.7,293 94.6,282.7 100.4,276.9 106.1,271.7 113.0,268.8 114.7,265 121.2,265.6 132.7,266.1 142.5,265 155.5,264 180.4,263.6 180.4,304.2 167.4,302.9 153.5,303.5 139.7,304.2 132.8,305.6 125.9,306.3 120.3,307.0 114.2,310.5 113.6,323.7 105,331.5 96,337.8 88,341.0 78.7,342.5 38.3,342.5" fill="#c8868f"/>
<polyline points="38.3,341.5 55,331.8 60,329.8 63.9,328.8 68.4,326.3 72.9,321.8 76.1,315.2 80.6,305.7 83.5,299.8 87.7,293 94.6,282.7 100.4,276.9 106.1,271.7 113.0,268.8 114.7,265 121.2,265.6 132.7,266.1 142.5,265 155.5,264 180.4,263.6" fill="none" stroke="#b35566" stroke-width="0.9"/>
<polyline points="180.4,304.2 167.4,302.9 153.5,303.5 139.7,304.2 132.8,305.6 125.9,306.3 120.3,307.0 114.2,310.5 113.6,323.7" fill="none" stroke="#b35566" stroke-width="0.9"/>
<clipPath id="pkc"><polygon points="38.3,341.5 55,331.8 60,329.8 63.9,328.8 68.4,326.3 72.9,321.8 76.1,315.2 80.6,305.7 83.5,299.8 87.7,293 94.6,282.7 100.4,276.9 106.1,271.7 113.0,268.8 114.7,265 121.2,265.6 132.7,266.1 142.5,265 155.5,264 180.4,263.6 180.4,304.2 167.4,302.9 153.5,303.5 139.7,304.2 132.8,305.6 125.9,306.3 120.3,307.0 114.2,310.5 113.6,323.7 105,331.5 96,337.8 88,341.0 78.7,342.5 38.3,342.5"/></clipPath>
<clipPath id="orc"><polygon points="38.5,342.0 50,340.5 60,338.5 70,335.5 80,331.5 90,327.5 100,323.5 108,320.2 113.5,318.6 180.4,318.6 180.4,336.6 113.5,336.6 100,338.5 90,340.5 80,341.8 60,342.5 38.5,342.5"/></clipPath>
<g clip-path="url(#pkc)" stroke="#dba9b0" stroke-width="0.9">
<line x1="43.94" y1="255" x2="43.94" y2="343" stroke="#d49da5" stroke-width="0.9" />
<line x1="51.08" y1="255" x2="51.08" y2="343" stroke="#d49da5" stroke-width="0.9" />
<line x1="58.22" y1="255" x2="58.22" y2="343" stroke="#d49da5" stroke-width="0.9" />
<line x1="65.36" y1="255" x2="65.36" y2="343" stroke="#d49da5" stroke-width="0.9" />
<line x1="72.5" y1="255" x2="72.5" y2="343" stroke="#d49da5" stroke-width="0.9" />
<line x1="79.64" y1="255" x2="79.64" y2="343" stroke="#d49da5" stroke-width="0.9" />
<line x1="86.78" y1="255" x2="86.78" y2="343" stroke="#d49da5" stroke-width="0.9" />
<line x1="93.92" y1="255" x2="93.92" y2="343" stroke="#d49da5" stroke-width="0.9" />
<line x1="101.06" y1="255" x2="101.06" y2="343" stroke="#d49da5" stroke-width="0.9" />
<line x1="108.2" y1="255" x2="108.2" y2="343" stroke="#d49da5" stroke-width="0.9" />
<line x1="115.34" y1="255" x2="115.34" y2="343" stroke="#d49da5" stroke-width="0.9" />
<line x1="122.48" y1="255" x2="122.48" y2="343" stroke="#d49da5" stroke-width="0.9" />
<line x1="129.62" y1="255" x2="129.62" y2="343" stroke="#d49da5" stroke-width="0.9" />
<line x1="136.76" y1="255" x2="136.76" y2="343" stroke="#d49da5" stroke-width="0.9" />
<line x1="143.9" y1="255" x2="143.9" y2="343" stroke="#d49da5" stroke-width="0.9" />
<line x1="151.04" y1="255" x2="151.04" y2="343" stroke="#d49da5" stroke-width="0.9" />
<line x1="158.18" y1="255" x2="158.18" y2="343" stroke="#d49da5" stroke-width="0.9" />
<line x1="165.32" y1="255" x2="165.32" y2="343" stroke="#d49da5" stroke-width="0.9" />
<line x1="172.46" y1="255" x2="172.46" y2="343" stroke="#d49da5" stroke-width="0.9" />
<line x1="179.6" y1="255" x2="179.6" y2="343" stroke="#d49da5" stroke-width="0.9" />
</g>
<g clip-path="url(#orc)" stroke="#f8e4c6" stroke-width="0.9">
<line x1="115.34" y1="315" x2="115.34" y2="343" stroke="#f8e4c6" stroke-width="0.9" />
<line x1="122.48" y1="315" x2="122.48" y2="343" stroke="#f8e4c6" stroke-width="0.9" />
<line x1="129.62" y1="315" x2="129.62" y2="343" stroke="#f8e4c6" stroke-width="0.9" />
<line x1="136.76" y1="315" x2="136.76" y2="343" stroke="#f8e4c6" stroke-width="0.9" />
<line x1="143.9" y1="315" x2="143.9" y2="343" stroke="#f8e4c6" stroke-width="0.9" />
<line x1="151.04" y1="315" x2="151.04" y2="343" stroke="#f8e4c6" stroke-width="0.9" />
<line x1="158.18" y1="315" x2="158.18" y2="343" stroke="#f8e4c6" stroke-width="0.9" />
<line x1="165.32" y1="315" x2="165.32" y2="343" stroke="#f8e4c6" stroke-width="0.9" />
<line x1="172.46" y1="315" x2="172.46" y2="343" stroke="#f8e4c6" stroke-width="0.9" />
<line x1="179.6" y1="315" x2="179.6" y2="343" stroke="#f8e4c6" stroke-width="0.9" />
</g>
<polyline points="64.3,335.1 70,333.6 76.1,331.9 81,330.2 86.9,328.4 92,327.6 97.7,327.1 103,326.6 109.5,326.4" fill="none" stroke="#c4643a" stroke-width="2.7" opacity="0.9"/>
<polyline points="70,336.2 76,335.0 82,333.6 88,332.2" fill="none" stroke="#c8693c" stroke-width="1.6" opacity="0.8"/>
<polyline points="88,320.6 96,319.8 104,319.2 113.5,318.6" fill="none" stroke="#d98a55" stroke-width="0.9" opacity="0.8"/>
<polyline points="81.5,340.5 88,338.4 96,335.2 105,330.8 113.6,323.7" fill="none" stroke="#b35566" stroke-width="0.9"/>
<polyline points="64,337.5 74,335.5 84,334.0 95,332.5 105,331.0" fill="none" stroke="#d58a55" stroke-width="1.2" opacity="0.7"/>
<line x1="108.8" y1="327.7" x2="180.4" y2="327.7" stroke="#553a10" stroke-width="3.4"/>
<line x1="108.8" y1="327.9" x2="180.4" y2="327.9" stroke="#3d2808" stroke-width="1.0"/>
<line x1="147.3" y1="304.5" x2="147.3" y2="318.5" stroke="#d9a3ab" stroke-width="0.9" />
<line x1="160.5" y1="306.0" x2="160.5" y2="318.5" stroke="#f0c48c" stroke-width="1.0" />
<line x1="115.0" y1="336.0" x2="115.0" y2="340.2" stroke="#f3cfa0" stroke-width="0.9" />
<line x1="130.7" y1="336.0" x2="130.7" y2="340.2" stroke="#f3cfa0" stroke-width="0.9" />
<line x1="156.2" y1="336.0" x2="156.2" y2="340.2" stroke="#f3cfa0" stroke-width="0.9" />
<line x1="160.6" y1="336.0" x2="160.6" y2="340.2" stroke="#f3cfa0" stroke-width="0.9" />
<rect x="111.70" y="326.10" width="2.8" height="2.8" fill="#e59c30" stroke="#7a4c0c" stroke-width="0.55"/>
<rect x="113.60" y="330.80" width="2.8" height="2.8" fill="#e59c30" stroke="#7a4c0c" stroke-width="0.55"/>
<rect x="128.50" y="326.60" width="2.8" height="2.8" fill="#e59c30" stroke="#7a4c0c" stroke-width="0.55"/>
<rect x="129.30" y="332.40" width="2.8" height="2.8" fill="#e59c30" stroke="#7a4c0c" stroke-width="0.55"/>
<rect x="132.90" y="330.90" width="2.8" height="2.8" fill="#e59c30" stroke="#7a4c0c" stroke-width="0.55"/>
<rect x="154.80" y="329.00" width="2.8" height="2.8" fill="#e59c30" stroke="#7a4c0c" stroke-width="0.55"/>
<rect x="159.20" y="321.00" width="2.8" height="2.8" fill="#e59c30" stroke="#7a4c0c" stroke-width="0.55"/>
<rect x="170.20" y="329.00" width="2.8" height="2.8" fill="#e59c30" stroke="#7a4c0c" stroke-width="0.55"/>
<rect x="179.00" y="326.60" width="2.8" height="2.8" fill="#e59c30" stroke="#7a4c0c" stroke-width="0.55"/>
<polyline points="38.5,342.3 45,341.0 51,340.0 55,339.5 59,338.6 63.9,337.2 68.4,335 72.9,331.4 76.4,328.3 79.6,326.1" fill="none" stroke="#4a1420" stroke-width="2.8" stroke-linecap="round" stroke-linejoin="round"/>
<polyline points="38.5,342.3 45,341.0 51,340.0 55,339.5 59,338.6 63.9,337.2 68.4,335 72.9,331.4 76.4,328.3 79.6,326.1" fill="none" stroke="#8c2536" stroke-width="0.9" stroke-dasharray="1.2 1.8"/>
<polyline points="79.2,322.4 86,315.8 93.4,311.3 100,306 106,301.1 108.4,299.2 113.7,296.1" fill="none" stroke="#4a1420" stroke-width="2.8" stroke-linecap="round" stroke-linejoin="round"/>
<polyline points="79.2,322.4 86,315.8 93.4,311.3 100,306 106,301.1 108.4,299.2 113.7,296.1" fill="none" stroke="#8c2536" stroke-width="0.9" stroke-dasharray="1.2 1.8"/>
<polyline points="113.2,287.4 117,286.6 120.4,285.6 125,285.2 128,285.4 135.8,285.0 143,284.2 151,283.6 158,283.2 166.5,282.8 174,282.8 180.4,283.8" fill="none" stroke="#4a1420" stroke-width="2.8" stroke-linecap="round" stroke-linejoin="round"/>
<polyline points="113.2,287.4 117,286.6 120.4,285.6 125,285.2 128,285.4 135.8,285.0 143,284.2 151,283.6 158,283.2 166.5,282.8 174,282.8 180.4,283.8" fill="none" stroke="#8c2536" stroke-width="0.9" stroke-dasharray="1.2 1.8"/>
<circle cx="96.8" cy="317.3" r="1.3" fill="#9b2538" stroke="#4a1020" stroke-width="0.5"/>
<circle cx="128.8" cy="290.0" r="1.3" fill="#9b2538" stroke="#4a1020" stroke-width="0.5"/>
<circle cx="147.3" cy="291.2" r="1.3" fill="#9b2538" stroke="#4a1020" stroke-width="0.5"/>
<circle cx="177.3" cy="287.7" r="1.3" fill="#9b2538" stroke="#4a1020" stroke-width="0.5"/>
<circle cx="180.4" cy="284.3" r="1.3" fill="#9b2538" stroke="#4a1020" stroke-width="0.5"/>
<circle cx="113.5" cy="287.6" r="1.3" fill="#9b2538" stroke="#4a1020" stroke-width="0.5"/>
<circle cx="112" cy="296.4" r="1.3" fill="#9b2538" stroke="#4a1020" stroke-width="0.5"/>
<circle cx="79.3" cy="322.5" r="1.3" fill="#9b2538" stroke="#4a1020" stroke-width="0.5"/>
<circle cx="82" cy="320" r="1.3" fill="#9b2538" stroke="#4a1020" stroke-width="0.5"/>
<line x1="38.8" y1="246.3" x2="38.8" y2="343.3" stroke="#231f20" stroke-width="1.5" />
<line x1="35.7" y1="342.7" x2="38.8" y2="342.7" stroke="#231f20" stroke-width="1.1" />
<text x="31.8" y="345.7" font-size="8.7" fill="#231f20" stroke="#231f20" text-anchor="end" textLength="4.1" lengthAdjust="spacingAndGlyphs" >0</text>
<line x1="35.7" y1="329.2715" x2="38.8" y2="329.2715" stroke="#231f20" stroke-width="1.1" />
<text x="31.8" y="332.2715" font-size="8.7" fill="#231f20" stroke="#231f20" text-anchor="end" textLength="4.1" lengthAdjust="spacingAndGlyphs" >5</text>
<line x1="35.7" y1="315.84299999999996" x2="38.8" y2="315.84299999999996" stroke="#231f20" stroke-width="1.1" />
<text x="31.8" y="318.84299999999996" font-size="8.7" fill="#231f20" stroke="#231f20" text-anchor="end" textLength="8.2" lengthAdjust="spacingAndGlyphs" >10</text>
<line x1="35.7" y1="302.4145" x2="38.8" y2="302.4145" stroke="#231f20" stroke-width="1.1" />
<text x="31.8" y="305.4145" font-size="8.7" fill="#231f20" stroke="#231f20" text-anchor="end" textLength="8.2" lengthAdjust="spacingAndGlyphs" >15</text>
<line x1="35.7" y1="288.986" x2="38.8" y2="288.986" stroke="#231f20" stroke-width="1.1" />
<text x="31.8" y="291.986" font-size="8.7" fill="#231f20" stroke="#231f20" text-anchor="end" textLength="8.2" lengthAdjust="spacingAndGlyphs" >20</text>
<line x1="35.7" y1="275.5575" x2="38.8" y2="275.5575" stroke="#231f20" stroke-width="1.1" />
<text x="31.8" y="278.5575" font-size="8.7" fill="#231f20" stroke="#231f20" text-anchor="end" textLength="8.2" lengthAdjust="spacingAndGlyphs" >25</text>
<line x1="35.7" y1="262.12899999999996" x2="38.8" y2="262.12899999999996" stroke="#231f20" stroke-width="1.1" />
<text x="31.8" y="265.12899999999996" font-size="8.7" fill="#231f20" stroke="#231f20" text-anchor="end" textLength="8.2" lengthAdjust="spacingAndGlyphs" >30</text>
<line x1="35.7" y1="248.70049999999998" x2="38.8" y2="248.70049999999998" stroke="#231f20" stroke-width="1.1" />
<text x="31.8" y="251.70049999999998" font-size="8.7" fill="#231f20" stroke="#231f20" text-anchor="end" textLength="8.2" lengthAdjust="spacingAndGlyphs" >35</text>
<line x1="38.1" y1="342.7" x2="183.5" y2="342.7" stroke="#231f20" stroke-width="1.5" />
<line x1="38.8" y1="342.7" x2="38.8" y2="346.6" stroke="#231f20" stroke-width="1.1" />
<text x="38.8" y="356.8" font-size="8.7" fill="#231f20" stroke="#231f20" text-anchor="middle" textLength="4.45" lengthAdjust="spacingAndGlyphs" >0</text>
<line x1="43.503" y1="342.7" x2="43.503" y2="345.0" stroke="#231f20" stroke-width="0.8" />
<line x1="48.205999999999996" y1="342.7" x2="48.205999999999996" y2="345.0" stroke="#231f20" stroke-width="0.8" />
<line x1="52.909" y1="342.7" x2="52.909" y2="345.0" stroke="#231f20" stroke-width="0.8" />
<line x1="57.611999999999995" y1="342.7" x2="57.611999999999995" y2="345.0" stroke="#231f20" stroke-width="0.8" />
<line x1="62.315" y1="342.7" x2="62.315" y2="346.6" stroke="#231f20" stroke-width="1.1" />
<text x="62.315" y="356.8" font-size="8.7" fill="#231f20" stroke="#231f20" text-anchor="middle" textLength="8.9" lengthAdjust="spacingAndGlyphs" >50</text>
<line x1="67.018" y1="342.7" x2="67.018" y2="345.0" stroke="#231f20" stroke-width="0.8" />
<line x1="71.721" y1="342.7" x2="71.721" y2="345.0" stroke="#231f20" stroke-width="0.8" />
<line x1="76.424" y1="342.7" x2="76.424" y2="345.0" stroke="#231f20" stroke-width="0.8" />
<line x1="81.127" y1="342.7" x2="81.127" y2="345.0" stroke="#231f20" stroke-width="0.8" />
<line x1="85.83" y1="342.7" x2="85.83" y2="346.6" stroke="#231f20" stroke-width="1.1" />
<text x="85.83" y="356.8" font-size="8.7" fill="#231f20" stroke="#231f20" text-anchor="middle" textLength="13.35" lengthAdjust="spacingAndGlyphs" >100</text>
<line x1="90.53299999999999" y1="342.7" x2="90.53299999999999" y2="345.0" stroke="#231f20" stroke-width="0.8" />
<line x1="95.23599999999999" y1="342.7" x2="95.23599999999999" y2="345.0" stroke="#231f20" stroke-width="0.8" />
<line x1="99.939" y1="342.7" x2="99.939" y2="345.0" stroke="#231f20" stroke-width="0.8" />
<line x1="104.642" y1="342.7" x2="104.642" y2="345.0" stroke="#231f20" stroke-width="0.8" />
<line x1="109.345" y1="342.7" x2="109.345" y2="346.6" stroke="#231f20" stroke-width="1.1" />
<text x="109.345" y="356.8" font-size="8.7" fill="#231f20" stroke="#231f20" text-anchor="middle" textLength="13.35" lengthAdjust="spacingAndGlyphs" >150</text>
<line x1="114.048" y1="342.7" x2="114.048" y2="345.0" stroke="#231f20" stroke-width="0.8" />
<line x1="118.75099999999999" y1="342.7" x2="118.75099999999999" y2="345.0" stroke="#231f20" stroke-width="0.8" />
<line x1="123.454" y1="342.7" x2="123.454" y2="345.0" stroke="#231f20" stroke-width="0.8" />
<line x1="128.15699999999998" y1="342.7" x2="128.15699999999998" y2="345.0" stroke="#231f20" stroke-width="0.8" />
<line x1="132.86" y1="342.7" x2="132.86" y2="346.6" stroke="#231f20" stroke-width="1.1" />
<text x="132.86" y="356.8" font-size="8.7" fill="#231f20" stroke="#231f20" text-anchor="middle" textLength="13.35" lengthAdjust="spacingAndGlyphs" >200</text>
<line x1="137.563" y1="342.7" x2="137.563" y2="345.0" stroke="#231f20" stroke-width="0.8" />
<line x1="142.266" y1="342.7" x2="142.266" y2="345.0" stroke="#231f20" stroke-width="0.8" />
<line x1="146.969" y1="342.7" x2="146.969" y2="345.0" stroke="#231f20" stroke-width="0.8" />
<line x1="151.672" y1="342.7" x2="151.672" y2="345.0" stroke="#231f20" stroke-width="0.8" />
<line x1="156.375" y1="342.7" x2="156.375" y2="346.6" stroke="#231f20" stroke-width="1.1" />
<text x="156.375" y="356.8" font-size="8.7" fill="#231f20" stroke="#231f20" text-anchor="middle" textLength="13.35" lengthAdjust="spacingAndGlyphs" >250</text>
<line x1="161.078" y1="342.7" x2="161.078" y2="345.0" stroke="#231f20" stroke-width="0.8" />
<line x1="165.781" y1="342.7" x2="165.781" y2="345.0" stroke="#231f20" stroke-width="0.8" />
<line x1="170.48399999999998" y1="342.7" x2="170.48399999999998" y2="345.0" stroke="#231f20" stroke-width="0.8" />
<line x1="175.187" y1="342.7" x2="175.187" y2="345.0" stroke="#231f20" stroke-width="0.8" />
<line x1="179.89" y1="342.7" x2="179.89" y2="346.6" stroke="#231f20" stroke-width="1.1" />
<text x="179.89" y="356.8" font-size="8.7" fill="#231f20" stroke="#231f20" text-anchor="middle" textLength="13.35" lengthAdjust="spacingAndGlyphs" >300</text>
<text x="78.3" y="371.0" font-size="10.3" fill="#231f20" stroke="#231f20" textLength="64.6" lengthAdjust="spacingAndGlyphs" >Time (seconds)</text>
<text x="17.2" y="293.2" font-size="10.5" fill="#231f20" stroke="#231f20" text-anchor="middle" textLength="100" lengthAdjust="spacingAndGlyphs" transform="rotate(-90 17.2 293.2)" >Growth rate (% area / s)</text>
<polyline points="183.8,278.7 186.5,278.7 186.5,330.2 183.8,330.2" fill="none" stroke="#231f20" stroke-width="1.1"/>
<text x="190.0" y="273.3" font-size="8.5" fill="#231f20" stroke="#231f20" textLength="24.8" lengthAdjust="spacingAndGlyphs" >Isotype</text>
<circle cx="191.2" cy="304.4" r="1.15" fill="#333"/>
<path d="M189.935,304.4 L192.46499999999997,304.4 M191.2,303.135 L191.2,305.66499999999996" stroke="#333" stroke-width="0.5"/>
<circle cx="194.8" cy="304.4" r="1.15" fill="#333"/>
<path d="M193.53500000000003,304.4 L196.065,304.4 M194.8,303.135 L194.8,305.66499999999996" stroke="#333" stroke-width="0.5"/>
<circle cx="198.3" cy="304.4" r="1.15" fill="#333"/>
<path d="M197.03500000000003,304.4 L199.565,304.4 M198.3,303.135 L198.3,305.66499999999996" stroke="#333" stroke-width="0.5"/>
<text x="190.0" y="334.2" font-size="8.5" fill="#231f20" stroke="#231f20" textLength="36.3" lengthAdjust="spacingAndGlyphs" >Anti-TNF-α</text>
<rect x="0" y="0" width="520" height="1" fill="#4a4a48" stroke="none" stroke-width="1" />
<rect x="0" y="1" width="520" height="1" fill="#b4b4b2" stroke="none" stroke-width="1" />
<rect x="518" y="0" width="1" height="392" fill="#8a8a88" stroke="none" stroke-width="1" />
<rect x="519" y="0" width="1" height="392" fill="#4a4a48" stroke="none" stroke-width="1" />
<rect x="0" y="390" width="520" height="1" fill="#8a8a88" stroke="none" stroke-width="1" />
<rect x="0" y="391" width="520" height="1" fill="#484846" stroke="none" stroke-width="1" />
<rect x="1" y="0" width="1" height="392" fill="#c8c8c8" stroke="none" stroke-width="1" />
<rect x="0" y="0" width="1" height="392" fill="#000000" stroke="none" stroke-width="1" />
</svg></body></html>
